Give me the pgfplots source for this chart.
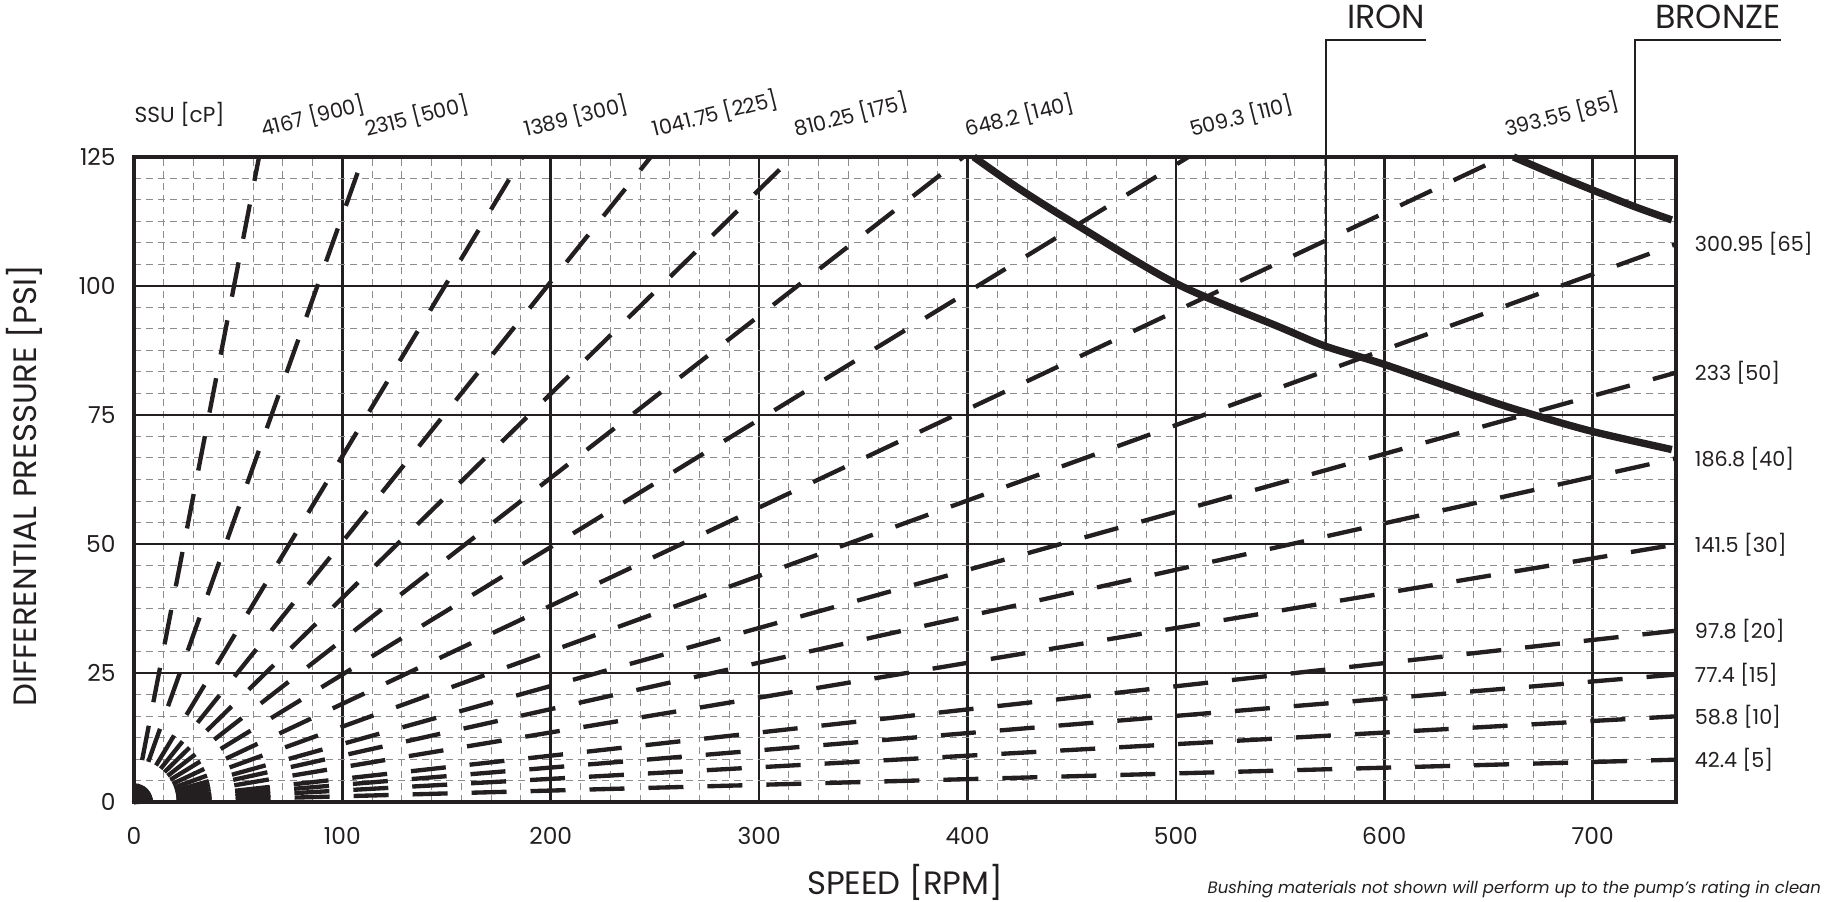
\documentclass[border=0pt]{standalone}
\usepackage{pgfplots}
\pgfplotsset{compat=1.18}
\usepackage{fontspec}
\setmainfont{Poppins}
\definecolor{ink}{HTML}{231F20}

\begin{document}
\begin{tikzpicture}[font=\fontsize{6.2}{7}\selectfont,
  fan/.style={ink, line width=1.3pt, dash pattern=on 10.5pt off 7.2pt, dash phase=4.9pt},
  toplab/.style={anchor=base west, yshift=6pt, xshift=1pt, rotate=14, inner sep=0pt, text=ink},
  rightlab/.style={anchor=west, xshift=5.5pt, inner sep=0pt, text=ink}]
\useasboundingbox (-40.2pt,-29.7pt) rectangle (507.9pt,240.6pt);
\begin{axis}[
  at={(0pt,0pt)}, anchor=south west,
  scale only axis, width=462.6pt, height=193.5pt,
  xmin=0, xmax=740, ymin=0, ymax=125,
  xtick={0,100,...,700}, ytick={0,25,...,125},
  minor x tick num=6, minor y tick num=5,
  grid=both,
  major grid style={ink, line width=0.8pt},
  minor grid style={black!45, line width=0.3pt, dash pattern=on 2pt off 1.6pt},
  major tick length=0pt, minor tick length=0pt,
  axis line style={ink, line width=1pt},
  tick label style={font=\fontsize{7}{8}\selectfont, text=ink},
  /pgf/number format/assume math mode=true,
  xticklabel style={yshift=-4pt},
  yticklabel style={xshift=-2pt},
  xlabel={SPEED [RPM]}, ylabel={DIFFERENTIAL PRESSURE [PSI]},
  label style={font=\fontsize{9.7}{11}\selectfont, text=ink},
  xlabel style={at={(axis description cs:0.5,0)}, anchor=center, yshift=-24pt},
  ylabel style={at={(axis description cs:-0.0713,0.49)}, anchor=center},
  clip=false,
]
% lines ending at the top edge (P = 125)
\addplot[fan] coordinates {(0,0) (60,125)};
\addplot[fan] coordinates {(0,0) (110,125)};
\addplot[fan] coordinates {(0,0) (186.5,125)};
\addplot[fan] coordinates {(0,0) (248,125)};
\addplot[fan] coordinates {(0,0) (316,125)};
\addplot[fan] coordinates {(0,0) (398,125)};
\addplot[fan] coordinates {(0,0) (506,125)};
\addplot[fan] coordinates {(0,0) (657,125)};
% lines ending at the right edge (N = 740)
\addplot[fan] coordinates {(0,0) (740,108.1)};
\addplot[fan] coordinates {(0,0) (740,83.2)};
\addplot[fan] coordinates {(0,0) (740,66.6)};
\addplot[fan] coordinates {(0,0) (740,49.9)};
\addplot[fan] coordinates {(0,0) (740,33.2)};
\addplot[fan] coordinates {(0,0) (740,24.7)};
\addplot[fan] coordinates {(0,0) (740,16.6)};
\addplot[fan] coordinates {(0,0) (740,8.2)};
% IRON
\addplot[ink, line width=2.2pt, smooth] coordinates {
(403,125) (425,118.8) (453,111.7) (500,100.5) (550,92) (572,88.3) (600,84.8) (650,77.8) (672,75) (700,71.8) (738,68.3)};
% BRONZE
\addplot[ink, line width=2.2pt, smooth] coordinates {
(662,125) (680,121.9) (700,118.6) (720,115.4) (738,112.8)};
% leaders
\addplot[ink, line width=0.6pt] coordinates {(572,88.3) (572,147.6) (620,147.6)};
\addplot[ink, line width=0.6pt] coordinates {(720.5,115.4) (720.5,147.6) (790.6,147.6)};
\node[anchor=base east, yshift=3.5pt, inner sep=0pt, text=ink, font=\fontsize{10}{11}\selectfont] at (axis cs:620,147.6) {IRON};
\node[anchor=base east, yshift=3.5pt, inner sep=0pt, text=ink, font=\fontsize{10}{11}\selectfont] at (axis cs:790.6,147.6) {BRONZE};
% labels
\node[anchor=base west, yshift=10.2pt, inner sep=0pt, text=ink, font=\fontsize{6.5}{7}\selectfont] at (axis cs:0,125) {SSU [cP]};
\node[toplab] at (axis cs:60,125) {4167 [900]};
\node[toplab] at (axis cs:110,125) {2315 [500]};
\node[toplab] at (axis cs:186.5,125) {1389 [300]};
\node[toplab] at (axis cs:248,125) {1041.75 [225]};
\node[toplab] at (axis cs:316,125) {810.25 [175]};
\node[toplab] at (axis cs:398,125) {648.2 [140]};
\node[toplab] at (axis cs:506,125) {509.3 [110]};
\node[toplab] at (axis cs:657,125) {393.55 [85]};
\node[rightlab] at (axis cs:740,108.1) {300.95 [65]};
\node[rightlab] at (axis cs:740,83.2) {233 [50]};
\node[rightlab] at (axis cs:740,66.6) {186.8 [40]};
\node[rightlab] at (axis cs:740,49.9) {141.5 [30]};
\node[rightlab] at (axis cs:740,33.2) {97.8 [20]};
\node[rightlab] at (axis cs:740,24.7) {77.4 [15]};
\node[rightlab] at (axis cs:740,16.6) {58.8 [10]};
\node[rightlab] at (axis cs:740,8.2) {42.4 [5]};
\end{axis}
\node[anchor=base west, inner sep=0pt, text=ink, font=\fontsize{4.95}{6}\selectfont\itshape] at (321.9pt,-27.5pt) {Bushing materials not shown will perform up to the pump’s rating in clean};
\end{tikzpicture}
\end{document}
